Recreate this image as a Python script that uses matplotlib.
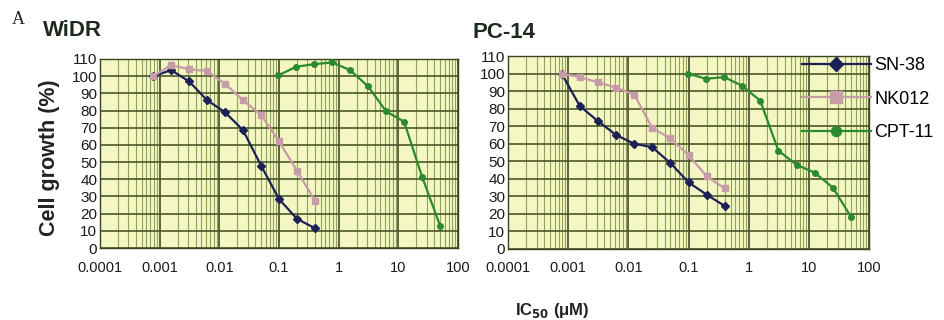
import matplotlib
matplotlib.use("Agg")
import matplotlib.pyplot as plt
import numpy as np
from matplotlib.ticker import FixedLocator, LogLocator, NullFormatter

plt.rcParams["font.family"] = ["Liberation Sans", "DejaVu Sans"]

# concentrations (uM), two-fold dilution series
CONC_LOW = [0.00078, 0.00156, 0.0031, 0.00625, 0.0125, 0.025, 0.05, 0.1, 0.2, 0.4]
CONC_HIGH = [0.098, 0.195, 0.39, 0.78, 1.56, 3.125, 6.25, 12.5, 25, 50]

# WiDR cell growth (%)
widr_sn38 = [100, 103.5, 97, 86, 79, 68.5, 48, 28.5, 17, 11.5]
widr_nk012 = [100, 106.5, 104, 103, 95.5, 86, 77.5, 62, 45, 27.5]
widr_cpt11 = [100.5, 105.5, 107, 108, 103.5, 94, 79.5, 73.5, 41.5, 13]

# PC-14 cell growth (%)
pc14_sn38 = [100, 81.5, 73, 65, 60, 58, 49, 38, 31, 24.5]
pc14_nk012 = [100, 98, 95, 92, 88, 69, 63, 53.5, 41.5, 34.5]
pc14_cpt11 = [100, 97, 98, 93, 84.5, 56, 48, 43.5, 35, 18.5]

PANELS = ["WiDR", "PC-14"]
DRUGS = ["SN-38", "NK012", "CPT-11"]
XTICKS = [1e-4, 1e-3, 1e-2, 1e-1, 1, 10, 100]
XTICKLABELS = ["0.0001", "0.001", "0.01", "0.1", "1", "10", "100"]
YTICKS = list(range(0, 111, 10))

STYLE = {
    "SN-38": dict(color="#1d2055", marker="D", ms=4),
    "NK012": dict(color="#c79ca8", marker="s", ms=5),
    "CPT-11": dict(color="#2b8a2b", marker="o", ms=4),
}

W, H = 944, 320
fig = plt.figure(figsize=(W / 100, H / 100), dpi=100)


def px_axes(x0, x1, ytop, ybot):
    return fig.add_axes([x0 / W, 1 - ybot / H, (x1 - x0) / W, (ybot - ytop) / H])


ax1 = px_axes(100, 458, 59, 248)
ax2 = px_axes(508, 869, 56, 249)

data = {
    "WiDR": [widr_sn38, widr_nk012, widr_cpt11],
    "PC-14": [pc14_sn38, pc14_nk012, pc14_cpt11],
}

for ax, name in zip([ax1, ax2], PANELS):
    ax.set_facecolor("#f4f6c4")
    ax.set_xscale("log")
    ax.set_xlim(1e-4, 100)
    ax.set_ylim(0, 110)
    ax.xaxis.set_major_locator(FixedLocator(XTICKS))
    ax.set_xticklabels(XTICKLABELS)
    ax.xaxis.set_minor_locator(LogLocator(base=10, subs=np.arange(2, 10), numticks=20))
    ax.xaxis.set_minor_formatter(NullFormatter())
    ax.set_yticks(YTICKS)
    ax.grid(True, which="minor", axis="x", color="#8fa455", lw=0.8)
    ax.grid(True, which="major", axis="x", color="#333d1c", lw=1.1)
    ax.grid(True, which="major", axis="y", color="#4a5828", lw=1.2)
    ax.set_axisbelow(True)
    ax.tick_params(which="both", length=0)
    ax.tick_params(axis="y", labelsize=11, pad=2, colors="#1a1a1a")
    ax.tick_params(axis="x", labelsize=10.5, pad=9, colors="#1a1a1a")
    for s in ax.spines.values():
        s.set_color("#3a4420")
        s.set_linewidth(1.0)

    sn, nk, cpt = data[name]
    for drug, xs, ys in zip(DRUGS, [CONC_LOW, CONC_LOW, CONC_HIGH], [sn, nk, cpt]):
        st = STYLE[drug]
        ax.plot(xs, ys, color=st["color"], lw=1.6, marker=st["marker"],
                ms=st["ms"], mfc=st["color"], mec=st["color"], label=drug,
                clip_on=False, zorder=3)

ax2.legend(loc="upper left", bbox_to_anchor=(802 / W, 1 - 57 / H),
           bbox_transform=fig.transFigure, frameon=False, fontsize=13,
           handlelength=3.8, handletextpad=0.2, labelspacing=0.92,
           borderpad=0, borderaxespad=0, markerscale=1.8)

fig.text(12 / W, 1 - 20 / H, "A", family="Liberation Serif", fontsize=13,
         va="center", ha="left", color="#222222")
fig.text(43 / W, 1 - 31 / H, "WiDR", fontsize=16, fontweight="bold",
         va="center", ha="left", color="#1e2a1e")
fig.text(472 / W, 1 - 32 / H, "PC-14", fontsize=16, fontweight="bold",
         va="center", ha="left", color="#1e2a1e")
fig.text(50 / W, 1 - 158 / H, "Cell growth (%)", fontsize=15.5, fontweight="bold",
         rotation=90, va="center", ha="center", color="#222222")
fig.text(552 / W, 1 - 311 / H, r"IC$_\mathbf{50}$ (μM)", fontsize=12,
         fontweight="bold", va="center", ha="center", color="#222222")

fig.savefig("out.png", dpi=100)
